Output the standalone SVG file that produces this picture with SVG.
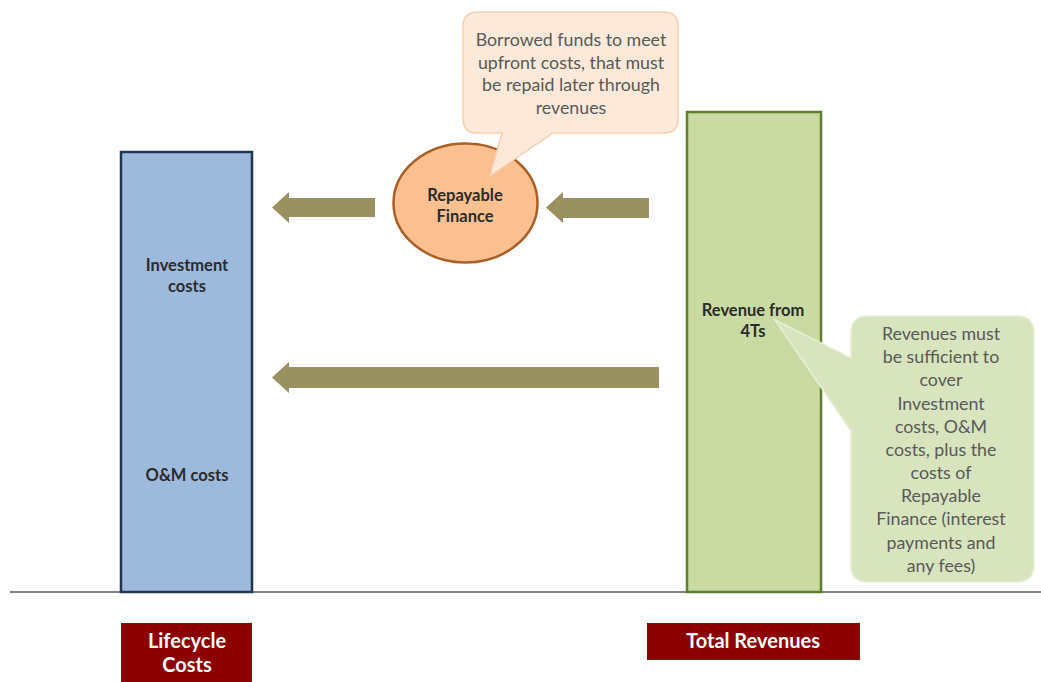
<svg xmlns="http://www.w3.org/2000/svg" width="1041" height="682" viewBox="0 0 1041 682">
  <style>
    .lbl { font-family: Lato, "Liberation Sans", sans-serif; font-weight: bold; font-size: 16.5px; fill: #2b2b2b; text-anchor: middle; }
    .note { font-family: Lato, "Liberation Sans", sans-serif; font-size: 17.8px; fill: #595959; text-anchor: middle; }
    .tag { font-family: Lato, "Liberation Sans", sans-serif; font-weight: bold; font-size: 20px; fill: #ffffff; text-anchor: middle; }
    .flow { fill: #9a9160; }
  </style>
  <rect width="1041" height="682" fill="#ffffff"/>

  <!-- ground line -->
  <line x1="10" y1="592" x2="1041" y2="592" stroke="#808080" stroke-width="2"/>

  <!-- lifecycle costs bar -->
  <g id="lifecycle-bar">
    <rect x="121" y="152" width="131" height="440" fill="#9db9dc" stroke="#1f3550" stroke-width="2.5"/>
    <text class="lbl" x="187" y="271">Investment</text>
    <text class="lbl" x="187" y="292">costs</text>
    <text class="lbl" x="187" y="481">O&amp;M costs</text>
  </g>

  <!-- total revenues bar -->
  <g id="revenue-bar">
    <rect x="687" y="112" width="134" height="480" fill="#c9dba3" stroke="#5f7f2f" stroke-width="2.5"/>
    <text class="lbl" x="753" y="316">Revenue from</text>
    <text class="lbl" x="753" y="337">4Ts</text>
  </g>

  <!-- repayable finance -->
  <g id="repayable-finance">
    <ellipse cx="465.5" cy="203" rx="72" ry="59.5" fill="#fac090" stroke="#a95f25" stroke-width="2.5"/>
    <text class="lbl" x="465" y="201">Repayable</text>
    <text class="lbl" x="465" y="222">Finance</text>
  </g>

  <!-- callout for repayable finance -->
  <g id="finance-note">
    <path d="M478,12 H664 Q678,12 678,26 V119 Q678,133 664,133 H553 L490,176 L502,133 H477 Q463,133 463,119 V26 Q463,12 478,12 Z" fill="#fde9d9" stroke="#f9cfb0" stroke-width="1.5"/>
    <text class="note" x="571" y="46">Borrowed funds to meet</text>
    <text class="note" x="571" y="69">upfront costs, that must</text>
    <text class="note" x="571" y="91">be repaid later through</text>
    <text class="note" x="571" y="114">revenues</text>
  </g>

  <!-- callout for revenues -->
  <g id="revenue-note">
    <path d="M868,316 H1017 Q1034,316 1034,333 V565 Q1034,582 1017,582 H868 Q851,582 851,565 V431 L775,320 L851,358 V333 Q851,316 868,316 Z" fill="#d7e4bd" stroke="#e6eed6" stroke-width="1.5"/>
    <text class="note" x="941" y="340">Revenues must</text>
    <text class="note" x="941" y="363">be sufficient to</text>
    <text class="note" x="941" y="386">cover</text>
    <text class="note" x="941" y="410">Investment</text>
    <text class="note" x="941" y="433">costs, O&amp;M</text>
    <text class="note" x="941" y="456">costs, plus the</text>
    <text class="note" x="941" y="479">costs of</text>
    <text class="note" x="941" y="502">Repayable</text>
    <text class="note" x="941" y="525">Finance (interest</text>
    <text class="note" x="941" y="549">payments and</text>
    <text class="note" x="941" y="572">any fees)</text>
  </g>

  <!-- flow arrows -->
  <g id="connectors">
    <polygon class="flow" points="272,207.5 289,192 289,198 375,198 375,217 289,217 289,223"/>
    <polygon class="flow" points="546,207.5 563,192 563,198 649,198 649,218 563,218 563,223"/>
    <polygon class="flow" points="272,377.5 289,362 289,367 659,367 659,388 289,388 289,393"/>
  </g>

  <!-- axis tags -->
  <g id="lifecycle-tag">
    <rect x="121" y="623" width="131" height="62" fill="#8b0000"/>
    <text class="tag" x="187" y="648">Lifecycle</text>
    <text class="tag" x="187" y="672">Costs</text>
  </g>
  <g id="revenue-tag">
    <rect x="647" y="623" width="213" height="37" fill="#8b0000"/>
    <text class="tag" x="753" y="648">Total Revenues</text>
  </g>
</svg>
